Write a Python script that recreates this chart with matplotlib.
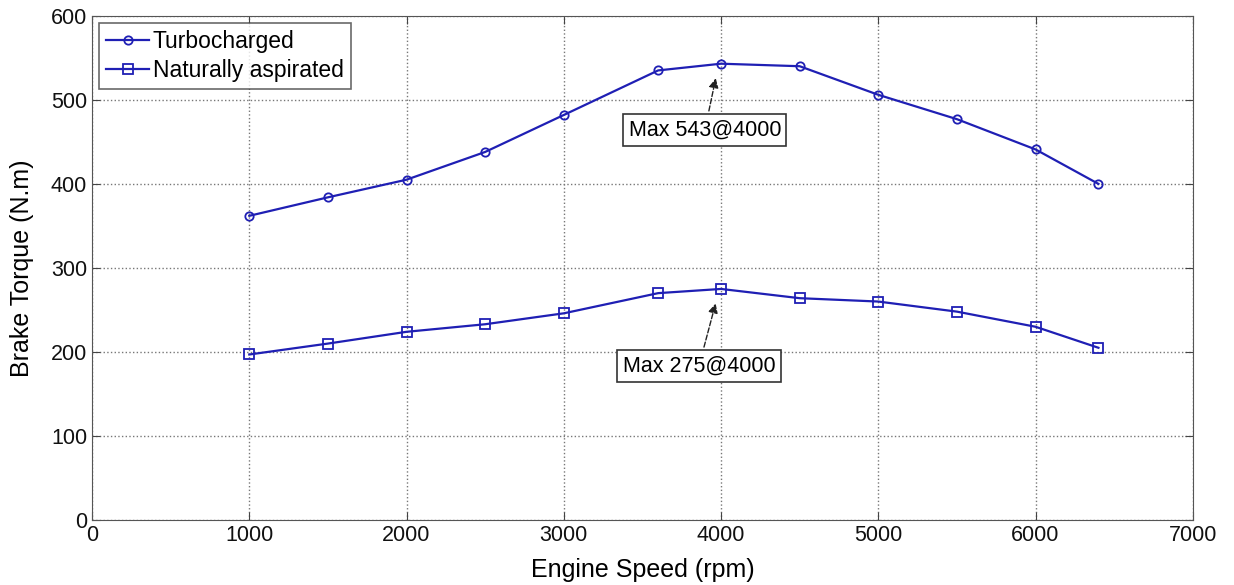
import matplotlib.pyplot as plt

# engine speed (rpm) and brake torque (N.m)
rpm = [1000, 1500, 2000, 2500, 3000, 3600, 4000, 4500, 5000, 5500, 6000, 6400]
turbo = [362, 384, 405, 438, 482, 535, 543, 540, 506, 477, 441, 400]
natural = [197, 210, 224, 233, 246, 270, 275, 264, 260, 248, 230, 205]

plt.rcParams['font.family'] = ['Liberation Sans', 'DejaVu Sans']
plt.rcParams['xtick.direction'] = 'in'
plt.rcParams['ytick.direction'] = 'in'

fig = plt.figure(figsize=(12.34, 5.85), dpi=100)
ax = fig.add_axes([0.0746, 0.111, 0.892, 0.862])

line_col = '#1f1fb4'
ax.plot(rpm, turbo, color=line_col, lw=1.6, marker='o', ms=6, mfc='none',
        mec=line_col, mew=1.3, label='Turbocharged')
ax.plot(rpm, natural, color=line_col, lw=1.6, marker='s', ms=7, mfc='none',
        mec=line_col, mew=1.3, label='Naturally aspirated')

ax.set_xlim(0, 7000)
ax.set_ylim(0, 600)
ax.set_xticks(range(0, 7001, 1000))
ax.set_yticks(range(0, 601, 100))
ax.tick_params(labelsize=15.5, top=True, right=True, length=6, color='#444444',
               labelcolor='#111111')
ax.grid(True, linestyle=':', color='#777777', lw=1.0)
for s in ax.spines.values():
    s.set_color('#555555')

ax.set_xlabel('Engine Speed (rpm)', fontsize=18, labelpad=9)
ax.set_ylabel('Brake Torque (N.m)', fontsize=18, labelpad=12)

box = dict(boxstyle='square,pad=0.25', fc='white', ec='#333333', lw=1.2)
arrow = dict(arrowstyle='-|>', color='#222222', lw=1.0, ls='--', mutation_scale=14)
ax.annotate('Max 543@4000', xy=(3970, 529), xytext=(3897, 464),
            fontsize=15.5, ha='center', va='center', bbox=box, arrowprops=arrow)
ax.annotate('Max 275@4000', xy=(3970, 261), xytext=(3859, 183),
            fontsize=15.5, ha='center', va='center', bbox=box, arrowprops=arrow)

leg = ax.legend(loc='upper left', fontsize=16.5, frameon=True, fancybox=False,
                edgecolor='#444444', borderaxespad=0.3, handlelength=1.9,
                handletextpad=0.15, borderpad=0.3, labelspacing=0.3)
leg.get_frame().set_linewidth(1.2)

fig.savefig('out.png', dpi=100)
